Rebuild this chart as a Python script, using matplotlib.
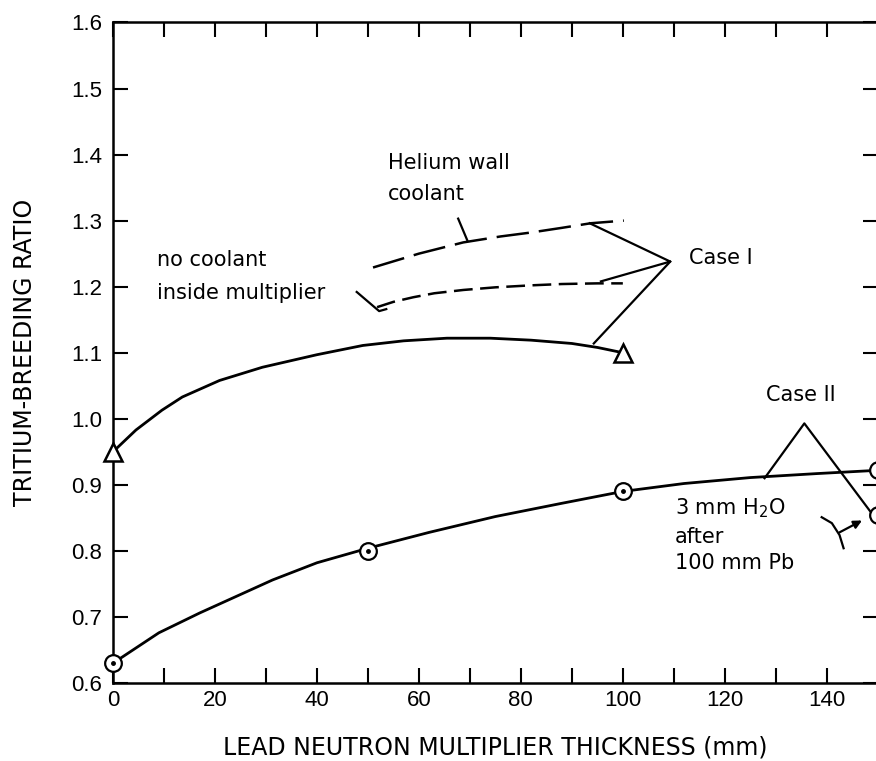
import matplotlib
matplotlib.use('Agg')
import matplotlib.pyplot as plt
import numpy as np

plt.rcParams['font.family'] = ['DejaVu Sans']
plt.rcParams['mathtext.fontset'] = 'dejavusans'

# Case I, solid curve (triangles are the computed points)
case1_x = [0, 4.5, 9.6, 13.6, 20.9, 29.3, 40, 49, 57, 65.5, 74, 82, 90, 95, 100]
case1_y = [0.95, 0.983, 1.013, 1.033, 1.058, 1.078, 1.097, 1.111, 1.118, 1.122, 1.122, 1.119, 1.114, 1.108, 1.10]
case1_pts_x = [0, 100]
case1_pts_y = [0.95, 1.10]

# Case I, helium wall coolant (long dashes)
helium_x = [51, 60, 68.7, 76, 82, 88, 93.7, 100.2]
helium_y = [1.229, 1.250, 1.267, 1.276, 1.282, 1.289, 1.296, 1.300]

# Case I, no coolant inside multiplier (short dashes)
nocool_x = [51.8, 55, 58.9, 63, 68.7, 75, 82, 88, 95, 100]
nocool_y = [1.169, 1.177, 1.184, 1.190, 1.195, 1.199, 1.202, 1.204, 1.205, 1.205]

# Case II, solid curve (circles are the computed points)
case2_x = [0, 9, 17, 31.3, 40, 50, 62, 75, 88, 100, 112, 125, 138, 150]
case2_y = [0.63, 0.676, 0.706, 0.756, 0.782, 0.804, 0.828, 0.852, 0.872, 0.89, 0.902, 0.911, 0.917, 0.922]
case2_pts_x = [0, 50, 100, 150]
case2_pts_y = [0.63, 0.80, 0.89, 0.922]

# 3 mm H2O after 100 mm Pb
water_x = [150]
water_y = [0.854]

xticks = [0, 20, 40, 60, 80, 100, 120, 140]
yticks = [0.6, 0.7, 0.8, 0.9, 1.0, 1.1, 1.2, 1.3, 1.4, 1.5, 1.6]

fig = plt.figure(figsize=(8.76, 7.61), dpi=100)
ax = fig.add_axes([0.129, 0.1025, 0.873, 0.868])

lw = 2.0
ax.plot(case1_x, case1_y, color='black', lw=lw, clip_on=False)
ax.plot(case1_pts_x, case1_pts_y, ls='none', marker='^', ms=13, mfc='white',
        mec='black', mew=1.8, clip_on=False, zorder=5)

ax.plot(helium_x, helium_y, color='black', lw=1.8, dashes=(13, 4))
ax.plot(nocool_x, nocool_y, color='black', lw=1.8, dashes=(7.5, 3))

ax.plot(case2_x, case2_y, color='black', lw=lw, clip_on=False)
for xs, ys in [(case2_pts_x, case2_pts_y), (water_x, water_y)]:
    ax.plot(xs, ys, ls='none', marker='o', ms=12, mfc='white', mec='black',
            mew=1.6, clip_on=False, zorder=5)
    ax.plot(xs, ys, ls='none', marker='o', ms=2.5, color='black',
            clip_on=False, zorder=6)

# pointer lines and labels
ann = dict(color='black', lw=1.6, clip_on=False)
ax.plot([67.7, 69.5], [1.303, 1.270], **ann)
ax.plot([47.8, 52.2, 53.6], [1.192, 1.163, 1.166], **ann)
ax.plot([93.5, 109.3, 95.7], [1.296, 1.238, 1.208], **ann)
ax.plot([109.3, 94.3], [1.238, 1.114], **ann)
ax.plot([127.8, 135.6, 148.8], [0.910, 0.993, 0.857], **ann)
ax.plot([139.0, 141.0, 142.5, 143.3], [0.851, 0.842, 0.824, 0.804], **ann)
ax.annotate('', xy=(147.4, 0.848), xytext=(142.0, 0.826),
            arrowprops=dict(arrowstyle='-|>', color='black', lw=1.6,
                            mutation_scale=12))

txt = dict(fontsize=15, color='black')
ax.text(54.0, 1.402, 'Helium wall\ncoolant', va='top', ha='left',
        linespacing=1.65, **txt)
ax.text(8.6, 1.255, 'no coolant\ninside multiplier', va='top', ha='left',
        linespacing=1.8, **txt)
ax.text(113, 1.243, 'Case I', va='center', ha='left', **txt)
ax.text(135.0, 1.036, 'Case II', va='center', ha='center', **txt)
ax.text(110.2, 0.882, '3 mm H$_2$O\nafter\n100 mm Pb', va='top', ha='left',
        linespacing=1.4, **txt)

ax.set_xlim(0, 150)
ax.set_ylim(0.6, 1.6)
ax.set_xticks(xticks)
ax.set_xticks(np.arange(10, 150, 10), minor=True)
ax.set_yticks(yticks)
ax.set_yticklabels([f'{v:.1f}' for v in yticks])
ax.tick_params(axis='both', which='both', direction='in', top=True, right=True,
               length=11, width=1.5, labelsize=16)
ax.tick_params(axis='x', which='major', pad=5)
ax.tick_params(axis='y', which='major', pad=8)
for lab in ax.get_xticklabels() + ax.get_yticklabels():
    lab.set_fontfamily('Liberation Sans')
for s in ax.spines.values():
    s.set_linewidth(1.8)

ax.set_xlabel('LEAD NEUTRON MULTIPLIER THICKNESS (mm)', fontsize=17, labelpad=18)
ax.set_ylabel('TRITIUM-BREEDING RATIO', fontsize=17, labelpad=24)

fig.savefig('out.png', dpi=100)
